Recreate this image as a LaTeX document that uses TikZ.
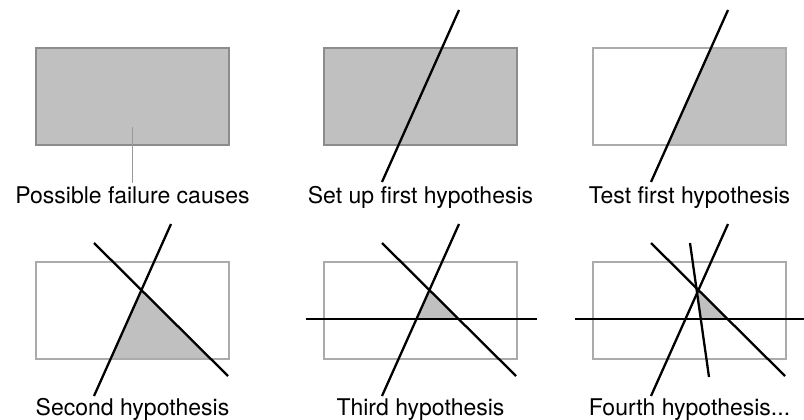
\documentclass[tikz,border=0pt]{standalone}
\usepackage{fontspec}
\setsansfont{TeX Gyre Heros}
\usetikzlibrary{positioning,calc}
\definecolor{causegray}{HTML}{C0C0C0}
\definecolor{edgedark}{HTML}{8C8C8C}
\definecolor{edgelight}{HTML}{ABABAB}

\begin{document}
\begin{tikzpicture}[
  x=1pt, y=-1pt,
  causes/.style={draw=edgedark, line width=1.4pt, fill=causegray},
  space/.style={draw=edgelight, line width=1.4pt},
  hypo/.style={black, line width=2.3pt},
  pointer/.style={draw=black!40, line width=1pt},
  caption/.style={font=\sffamily\fontsize{23}{27}\selectfont, inner sep=0pt, anchor=base},
]
  \useasboundingbox (0,0) rectangle (804,420);

  % top row
  \begin{scope}[shift={(36,48)}]
    \draw[causes] (0,0) rectangle (193,97);
    \coordinate (inside) at (96,79);
    \node[caption] (cap1) at (96.5,155) {Possible failure causes};
    \draw[pointer] (inside) -- ([yshift=3pt]cap1.north -| inside);
  \end{scope}

  \begin{scope}[shift={(324,48)}]
    \coordinate (a1) at (135,-38); \coordinate (a2) at (58,134);
    \draw[causes] (0,0) rectangle (193,97);
    \draw[hypo] (a1) -- (a2);
    \node[caption] (cap2) at (96.5,155) {Set up first hypothesis};
  \end{scope}

  \begin{scope}[shift={(593,48)}]
    \coordinate (a1) at (135,-38); \coordinate (a2) at (58,134);
    \begin{scope}
      \clip (0,0) rectangle (193,97);
      \fill[causegray] (a1) -- (a2) -- (260,134) -- (260,-38) -- cycle;
    \end{scope}
    \draw[space] (0,0) rectangle (193,97);
    \draw[hypo] (a1) -- (a2);
    \node[caption] (cap3) at (96.5,155) {Test first hypothesis};
  \end{scope}

  % bottom row
  \begin{scope}[shift={(36,262)}]
    \coordinate (a1) at (135,-38); \coordinate (a2) at (58,134);
    \coordinate (b1) at (58,-19);  \coordinate (b2) at (192,114);
    \coordinate (x) at (intersection of a1--a2 and b1--b2);
    \begin{scope}
      \clip (0,0) rectangle (193,97);
      \fill[causegray] (x) -- (a2) -- (b2) -- cycle;
    \end{scope}
    \draw[space] (0,0) rectangle (193,97);
    \draw[hypo] (a1) -- (a2);
    \draw[hypo] (b1) -- (b2);
    \node[caption] (cap4) at (96.5,153) {Second hypothesis};
  \end{scope}

  \begin{scope}[shift={(324,262)}]
    \coordinate (a1) at (135,-38); \coordinate (a2) at (58,134);
    \coordinate (b1) at (58,-19);  \coordinate (b2) at (192,114);
    \coordinate (h1) at (-18,57);  \coordinate (h2) at (213,57);
    \coordinate (x) at (intersection of a1--a2 and b1--b2);
    \begin{scope}
      \clip (0,0) rectangle (193,57);
      \fill[causegray] (x) -- (a2) -- (b2) -- cycle;
    \end{scope}
    \draw[space] (0,0) rectangle (193,97);
    \draw[hypo] (a1) -- (a2);
    \draw[hypo] (b1) -- (b2);
    \draw[hypo] (h1) -- (h2);
    \node[caption] (cap5) at (96.5,153) {Third hypothesis};
  \end{scope}

  \begin{scope}[shift={(593,262)}]
    \coordinate (a1) at (135,-38); \coordinate (a2) at (58,134);
    \coordinate (b1) at (58,-19);  \coordinate (b2) at (192,114);
    \coordinate (h1) at (-18,57);  \coordinate (h2) at (213,57);
    \coordinate (d1) at (97,-19);  \coordinate (d2) at (116,115);
    \coordinate (y) at (intersection of d1--d2 and b1--b2);
    \begin{scope}
      \clip (0,0) rectangle (193,57);
      \fill[causegray] (y) -- (d2) -- (b2) -- cycle;
    \end{scope}
    \draw[space] (0,0) rectangle (193,97);
    \draw[hypo] (a1) -- (a2);
    \draw[hypo] (b1) -- (b2);
    \draw[hypo] (h1) -- (h2);
    \draw[hypo] (d1) -- (d2);
    \node[caption] (cap6) at (96.5,153) {Fourth hypothesis...};
  \end{scope}
\end{tikzpicture}
\end{document}
